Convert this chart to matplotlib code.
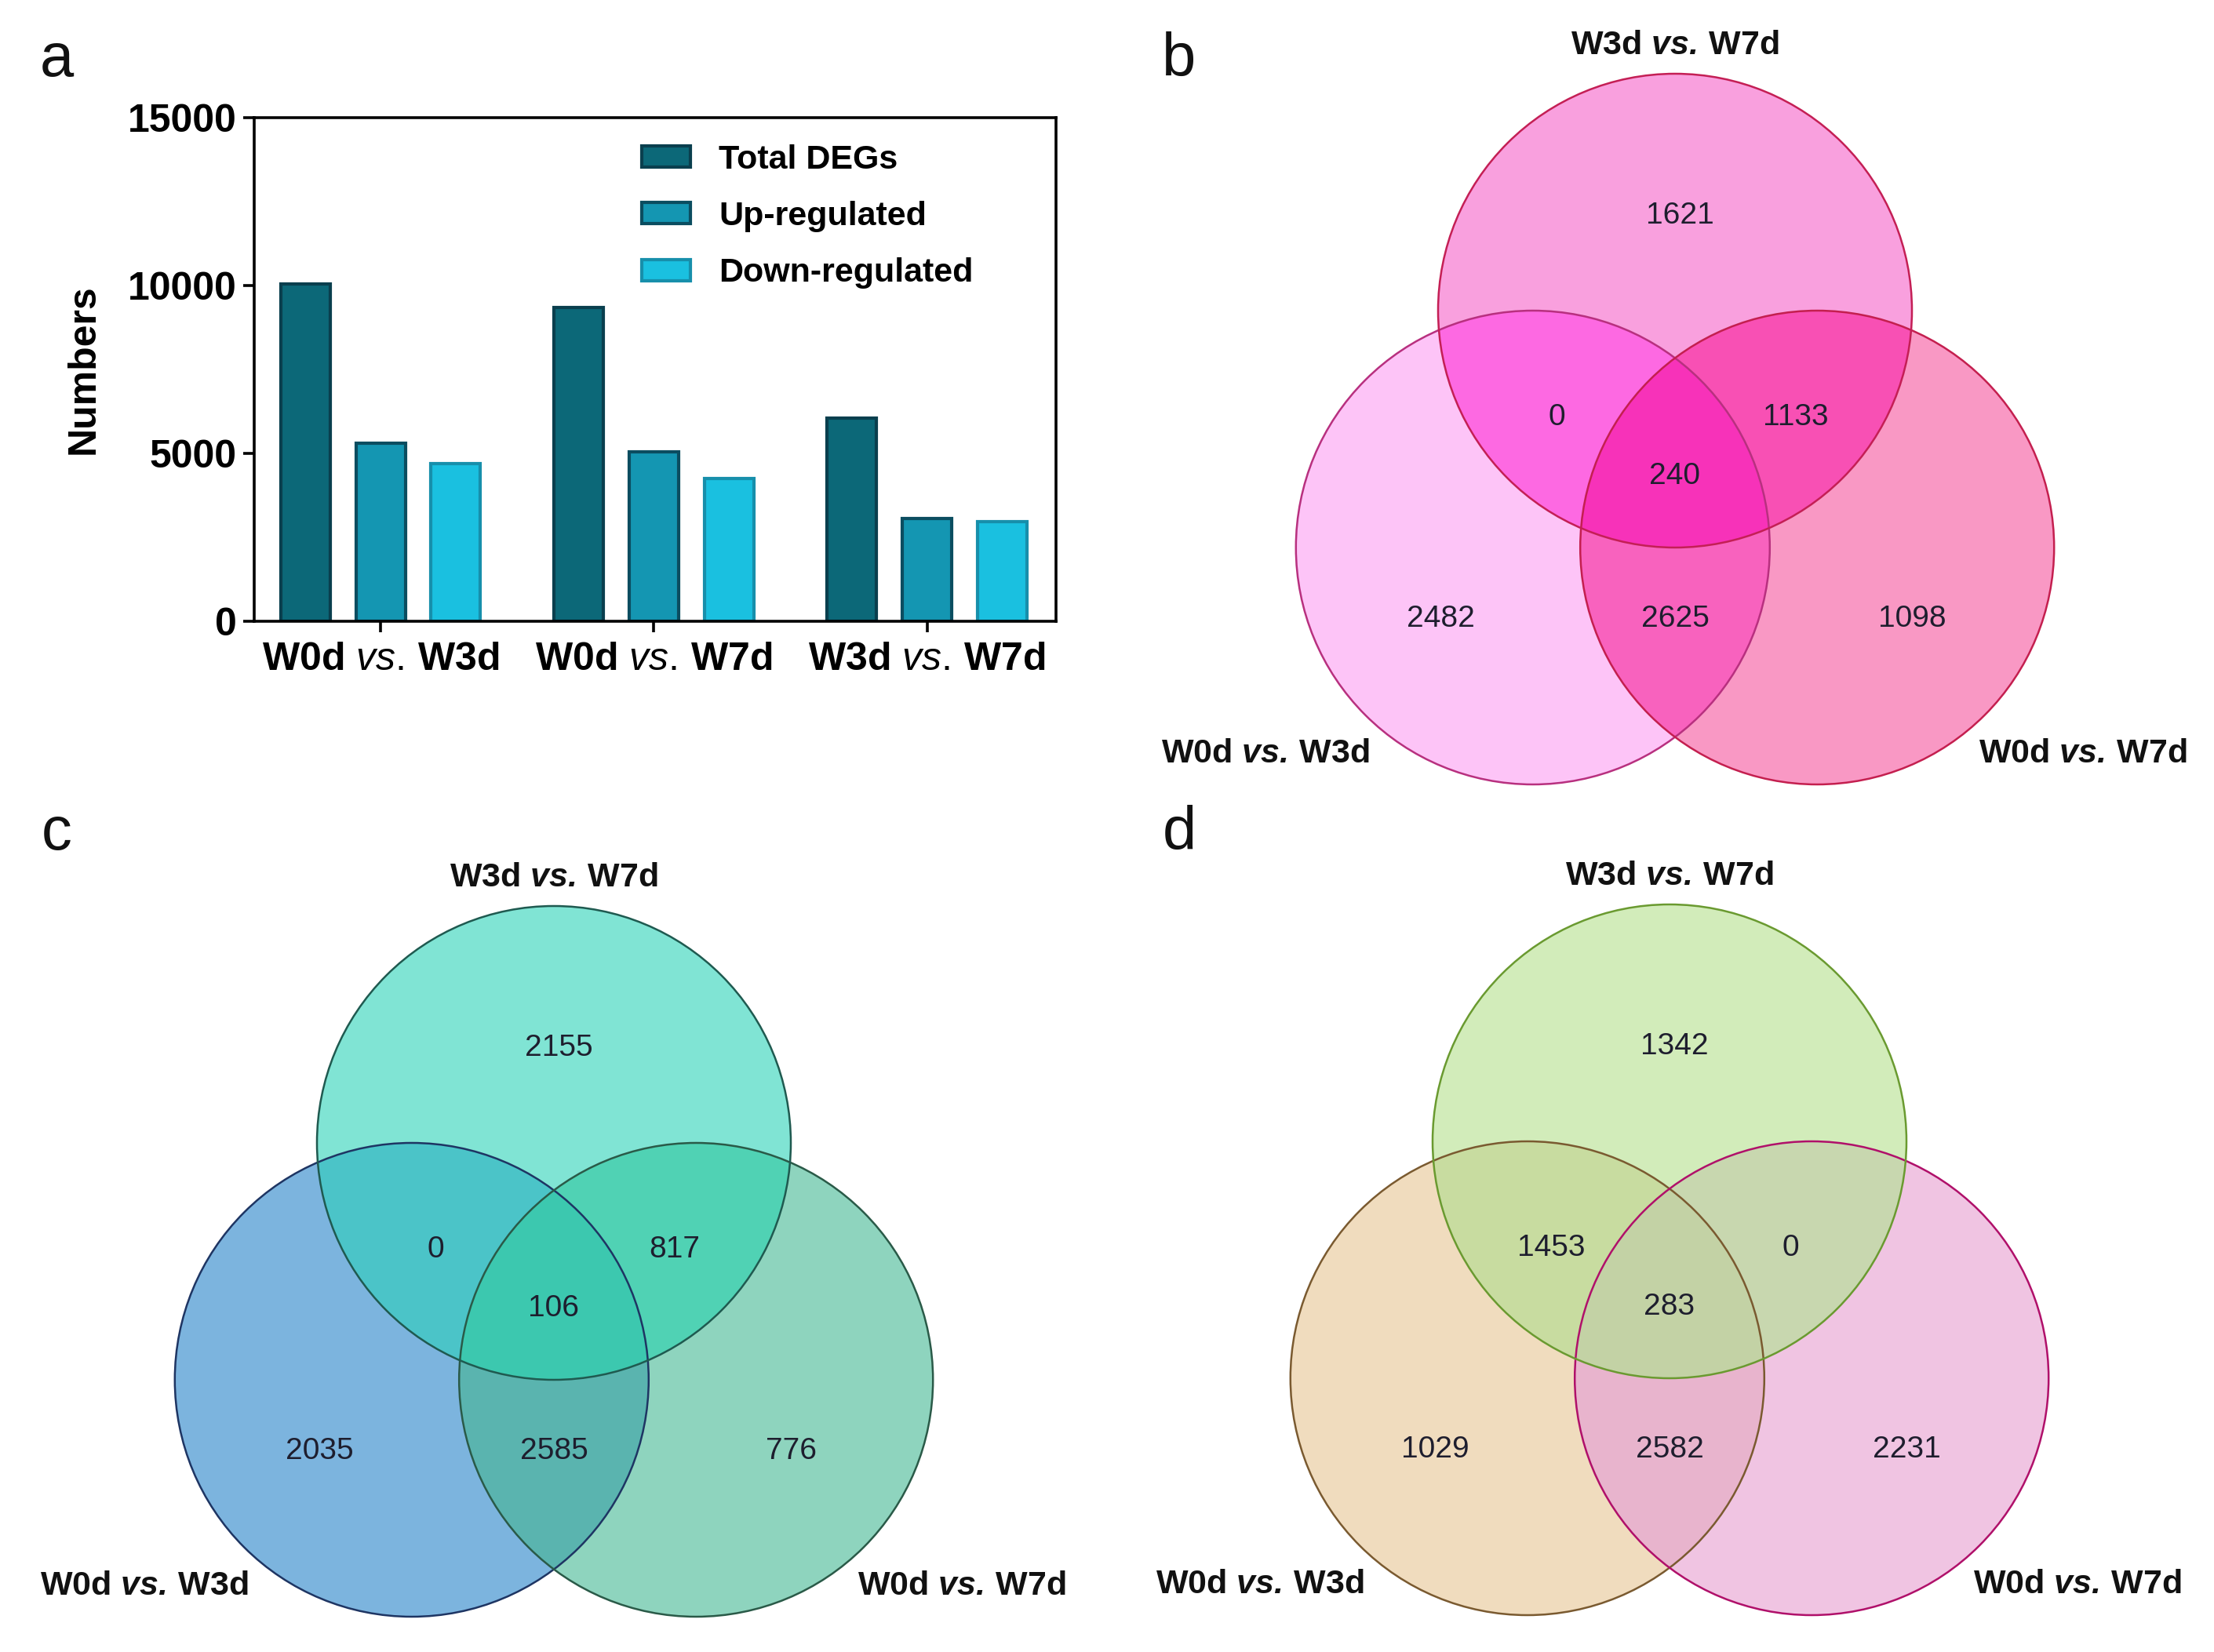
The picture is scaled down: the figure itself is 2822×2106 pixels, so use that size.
import numpy as np
import matplotlib
matplotlib.use("Agg")
import matplotlib.pyplot as plt
from matplotlib.patches import Circle, Polygon, Patch

plt.rcParams["font.family"] = ["Liberation Sans", "DejaVu Sans"]
plt.rcParams["mathtext.fontset"] = "custom"
plt.rcParams["mathtext.rm"] = "Liberation Sans"
plt.rcParams["mathtext.it"] = "Liberation Sans:italic"
plt.rcParams["mathtext.bf"] = "Liberation Sans:bold"
plt.rcParams["mathtext.bfit"] = "Liberation Sans:bold:italic"

# ---- data ----
comparisons = ["W0d vs. W3d", "W0d vs. W7d", "W3d vs. W7d"]
total_degs = [10050, 9350, 6050]
up_regulated = [5300, 5050, 3050]
down_regulated = [4700, 4250, 2970]

# venn sets: left, right, top
set_names = ["W0d vs. W3d", "W0d vs. W7d", "W3d vs. W7d"]
# region order: T, L, R, TL, TR, LR, TLR
regions = ["T", "L", "R", "TL", "TR", "LR", "TLR"]
counts_b = [1621, 2482, 1098, 0, 1133, 2625, 240]
counts_c = [2155, 2035, 776, 0, 817, 2585, 106]
counts_d = [1342, 1029, 2231, 1453, 0, 2582, 283]

# ---- styles ----
bar_colors = ["#0c6878", "#1496b2", "#1ac0e0"]
bar_edges = ["#0a3f4e", "#0b4d60", "#178fab"]

region_colors_b = ["#f9a0de", "#fdc4f7", "#f998c4", "#fd69e2", "#f850b4", "#f862be", "#f732b9"]
region_colors_c = ["#80e4d4", "#7cb4de", "#8ed4be", "#4bc4c8", "#50d2b4", "#5ab4af", "#3cc8af"]
region_colors_d = ["#d2ecba", "#f0dcbe", "#f0c4e2", "#c8dca0", "#c8d7af", "#e8b4cd", "#c3d2a5"]
outline_b = ["#b8307f", "#c41f4f", "#c41f55"]  # left, right, top
outline_c = ["#1e3563", "#2a5a48", "#1f5a50"]
outline_d = ["#7a5a30", "#b0106a", "#6a9a30"]

W, H = 2822, 2106
fig = plt.figure(figsize=(W / 100, H / 100), dpi=100)

# canvas in pixel units for the venn panels
canvas = fig.add_axes([0, 0, 1, 1])
canvas.set_xlim(0, W)
canvas.set_ylim(H, 0)
canvas.axis("off")


def vs_label(name, bold_it):
    a, b = name.split(" vs. ")
    cmd = r"\mathbfit" if bold_it else r"\mathit"
    return r"$\mathbf{%s}\ %s{vs.}\,\mathbf{%s}$" % (a, cmd, b)


def region_poly(centers, r, n=1440):
    pts = []
    t = np.linspace(0, 2 * np.pi, n, endpoint=False)
    for i, (cx, cy) in enumerate(centers):
        p = np.column_stack([cx + r * np.cos(t), cy + r * np.sin(t)])
        keep = np.ones(n, bool)
        for j, (ox, oy) in enumerate(centers):
            if j != i:
                keep &= np.hypot(p[:, 0] - ox, p[:, 1] - oy) <= r + 1e-6
        pts.append(p[keep])
    pts = np.vstack(pts)
    m = pts.mean(axis=0)
    order = np.argsort(np.arctan2(pts[:, 1] - m[1], pts[:, 0] - m[0]))
    return pts[order]


# label offsets in radius units (x right, y up) relative to top circle centre
offsets = {"T": (0.02, 0.40), "L": (-0.99, -1.30), "R": (1.00, -1.30),
           "TL": (-0.50, -0.45), "TR": (0.51, -0.45), "LR": (0.0, -1.30),
           "TLR": (0.0, -0.70)}


def draw_venn(ax, top_x, top_y, r, counts, colors, outlines):
    top = (top_x, top_y)
    left = (top_x - 0.6 * r, top_y + 1.0 * r)
    right = (top_x + 0.6 * r, top_y + 1.0 * r)
    cmap = dict(zip(regions, colors))
    # single sets
    for key, c in (("L", left), ("R", right), ("T", top)):
        ax.add_patch(Circle(c, r, facecolor=cmap[key], edgecolor="none", zorder=1))
    # overlaps
    for key, cs in (("TL", [top, left]), ("TR", [top, right]), ("LR", [left, right]),
                    ("TLR", [top, left, right])):
        ax.add_patch(Polygon(region_poly(cs, r), closed=True, facecolor=cmap[key],
                             edgecolor="none", zorder=2))
    for c, ec in zip((left, right, top), outlines):
        ax.add_patch(Circle(c, r, facecolor="none", edgecolor=ec, lw=1.8, zorder=3))
    for key, val in zip(regions, counts):
        dx, dy = offsets[key]
        ax.text(top_x + dx * r, top_y - dy * r, str(val), fontsize=28, color="#1e1e2e",
                ha="center", va="center", zorder=4)
    # set names
    kw = dict(fontsize=31, ha="center", va="center", color="#111111")
    ax.text(top_x, top_y - 1.12 * r, vs_label(set_names[2], True), **kw)
    ax.text(top_x - 1.73 * r, top_y + 1.87 * r, vs_label(set_names[0], True), **kw)
    ax.text(top_x + 1.72 * r, top_y + 1.87 * r, vs_label(set_names[1], True), **kw)


R = 302
draw_venn(canvas, 2135, 396, R, counts_b, region_colors_b, outline_b)
draw_venn(canvas, 706, 1457, R, counts_c, region_colors_c, outline_c)
draw_venn(canvas, 2128, 1455, R, counts_d, region_colors_d, outline_d)

# panel letters
for letter, (px, py) in zip("abcd", [(72, 76), (1503, 76), (72, 1062), (1503, 1062)]):
    canvas.text(px, py, letter, fontsize=56, ha="center", va="center", color="#111111")

# ---- panel a: bar chart ----
ax = fig.add_axes([0.1148, 0.6239, 0.3623, 0.3051])
x = np.arange(len(comparisons))
off, bw = 0.275, 0.181
series = [total_degs, up_regulated, down_regulated]
names = ["Total DEGs", "Up-regulated", "Down-regulated"]
for k, vals in enumerate(series):
    ax.bar(x + (k - 1) * off, vals, width=bw, color=bar_colors[k],
           edgecolor=bar_edges[k], linewidth=3, label=names[k])

ax.set_xlim(-0.4625, 2.473)
ax.set_ylim(0, 15000)
ax.set_yticks([0, 5000, 10000, 15000])
ax.set_xticks(x)
ax.set_xticklabels([vs_label(c, False) for c in comparisons])
for lab in ax.get_xticklabels() + ax.get_yticklabels():
    lab.set_fontweight("bold")
    lab.set_fontsize(36)
ax.tick_params(direction="out", width=2.6, length=10, pad=6)
ax.tick_params(axis="x", pad=9)
for sp in ax.spines.values():
    sp.set_linewidth(2.6)
ax.set_ylabel("Numbers", fontsize=36, fontweight="bold")
ax.yaxis.set_label_coords(-0.19, 0.5)

handles = [Patch(facecolor=bar_colors[k], edgecolor=bar_edges[k], linewidth=3) for k in range(3)]
ax.legend(handles, names, loc="upper left", bbox_to_anchor=(0.445, 1.007), frameon=False,
          prop={"size": 31, "weight": "bold"}, handlelength=1.44, handleheight=0.59,
          labelspacing=0.75, handletextpad=0.85)

fig.savefig("out.png", dpi=100)
